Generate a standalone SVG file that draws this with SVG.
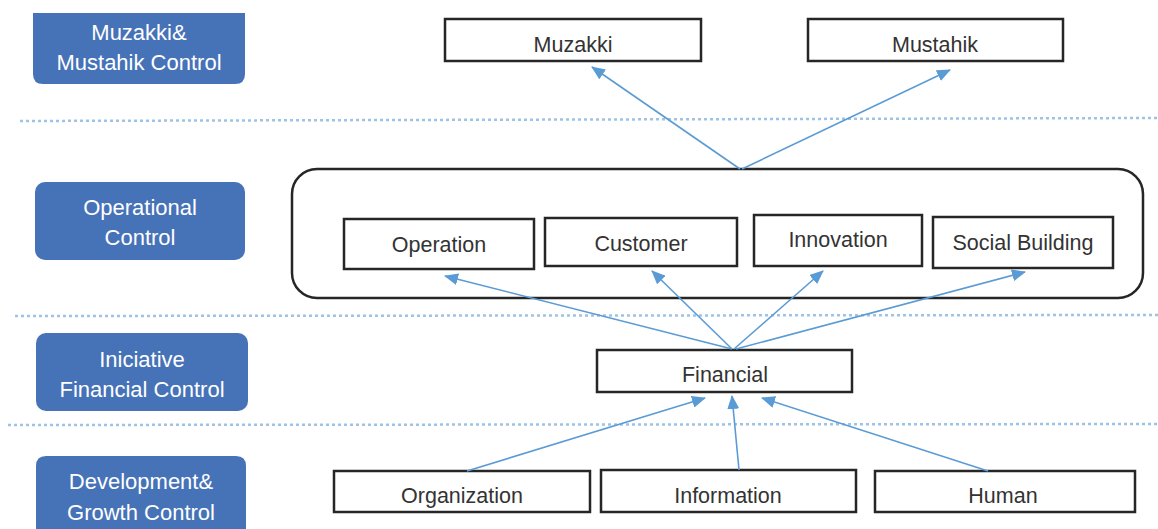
<svg xmlns="http://www.w3.org/2000/svg" width="1158" height="529" viewBox="0 0 1158 529">
<style>
.lbl{fill:#4672B8}
.lt{font-family:"Liberation Sans",Arial,sans-serif;font-size:22px;fill:#FFFFFF;text-anchor:middle}
.box{fill:#FFFFFF;stroke:#262626;stroke-width:2.5}
.nt{font-family:"Liberation Sans",Arial,sans-serif;font-size:21.5px;fill:#333333;text-anchor:middle}
.sep{stroke:#9DC3E6;stroke-width:2.5;stroke-dasharray:3 3;fill:none}
.con{stroke:#5B9BD5;stroke-width:1.6;fill:none;marker-end:url(#ah)}
</style>
<defs>
<marker id="ah" markerUnits="userSpaceOnUse" markerWidth="14" markerHeight="12" viewBox="0 0 14 12" refX="13" refY="6" orient="auto">
<path d="M0,0 L14,6 L0,12 Z" fill="#5B9BD5"/>
</marker>
</defs>
<rect width="1158" height="529" fill="#FFFFFF"/>

<g id="separators">
<line class="sep" x1="20" y1="121" x2="1158" y2="118"/>
<line class="sep" x1="15" y1="316" x2="1158" y2="315"/>
<line class="sep" x1="8" y1="425" x2="1158" y2="424"/>
</g>

<g id="label-muzakki-mustahik">
<path class="lbl" d="M33,13 H245 V74 Q245,84 235,84 H43 Q33,84 33,74 Z"/>
<text class="lt" x="139" y="40">Muzakki&amp;</text>
<text class="lt" x="139" y="70">Mustahik Control</text>
</g>
<g id="label-operational">
<rect class="lbl" x="35" y="182" width="210" height="78" rx="10"/>
<text class="lt" x="140" y="215">Operational</text>
<text class="lt" x="140" y="245">Control</text>
</g>
<g id="label-iniciative">
<rect class="lbl" x="36" y="333" width="212" height="78" rx="10"/>
<text class="lt" x="142" y="367">Iniciative</text>
<text class="lt" x="142" y="397">Financial Control</text>
</g>
<g id="label-development">
<path class="lbl" d="M46,456 H236 Q246,456 246,466 V529 H36 V466 Q36,456 46,456 Z"/>
<text class="lt" x="141" y="489">Development&amp;</text>
<text class="lt" x="141" y="520">Growth Control</text>
</g>

<g id="operational-container">
<rect x="292" y="169" width="851" height="129" rx="25" fill="none" stroke="#262626" stroke-width="2.5"/>
</g>

<g id="node-muzakki">
<rect class="box" x="445" y="19" width="256" height="42"/>
<text class="nt" x="573" y="52">Muzakki</text>
</g>
<g id="node-mustahik">
<rect class="box" x="808" y="19" width="255" height="42"/>
<text class="nt" x="935" y="52">Mustahik</text>
</g>
<g id="node-operation">
<rect class="box" x="344" y="219" width="190" height="50"/>
<text class="nt" x="439" y="252">Operation</text>
</g>
<g id="node-customer">
<rect class="box" x="545" y="218" width="192" height="48"/>
<text class="nt" x="641" y="251">Customer</text>
</g>
<g id="node-innovation">
<rect class="box" x="754" y="215" width="168" height="51"/>
<text class="nt" x="838" y="247">Innovation</text>
</g>
<g id="node-social-building">
<rect class="box" x="933" y="217" width="180" height="51"/>
<text class="nt" x="1023" y="250">Social Building</text>
</g>
<g id="node-financial">
<rect class="box" x="597" y="350" width="255" height="42"/>
<text class="nt" x="725" y="382">Financial</text>
</g>
<g id="node-organization">
<rect class="box" x="334" y="471" width="256" height="41"/>
<text class="nt" x="462" y="503">Organization</text>
</g>
<g id="node-information">
<rect class="box" x="601" y="470" width="255" height="42"/>
<text class="nt" x="728" y="503">Information</text>
</g>
<g id="node-human">
<rect class="box" x="875" y="471" width="260" height="41"/>
<text class="nt" x="1003" y="503">Human</text>
</g>

<g id="connectors">
<line class="con" x1="740" y1="169" x2="592" y2="67"/>
<line class="con" x1="742" y1="169" x2="950" y2="70"/>
<line class="con" x1="732" y1="349" x2="445" y2="276"/>
<line class="con" x1="732" y1="349" x2="652" y2="271"/>
<line class="con" x1="734" y1="349" x2="823" y2="271"/>
<line class="con" x1="736" y1="349" x2="1025" y2="272"/>
<line class="con" x1="467" y1="471" x2="705" y2="398"/>
<line class="con" x1="739" y1="470" x2="732" y2="396"/>
<line class="con" x1="988" y1="471" x2="762" y2="398"/>
</g>
</svg>
